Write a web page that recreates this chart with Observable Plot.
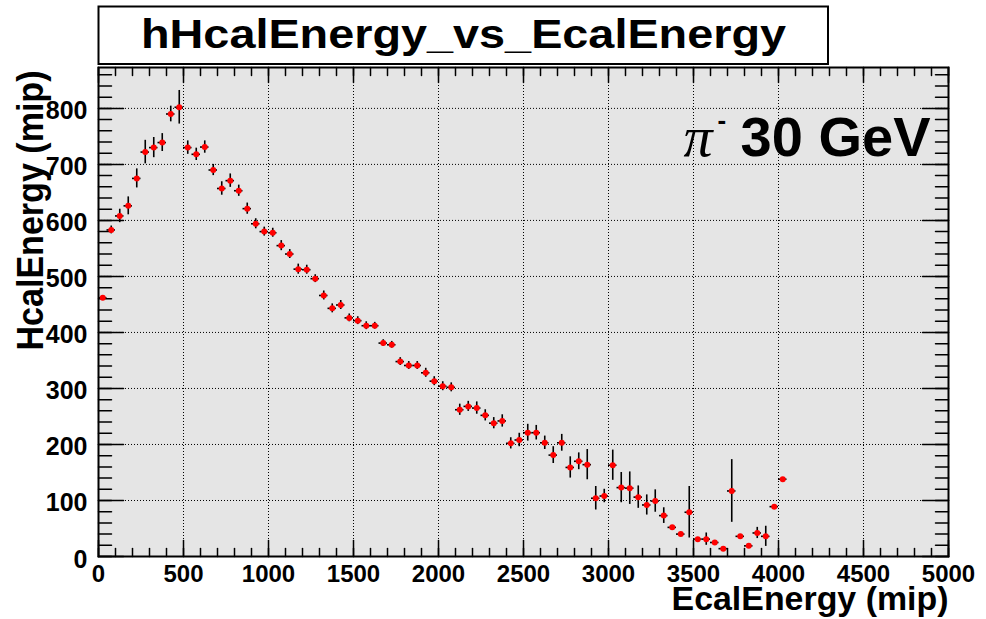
<!DOCTYPE html>
<html>
<head>
<meta charset="utf-8">
<script src="https://cdn.jsdelivr.net/npm/d3@7"></script>
<script src="https://cdn.jsdelivr.net/npm/@observablehq/plot@0.6"></script>
<style>
  html, body { margin: 0; padding: 0; background: #fff; }
  #chart svg { display: block; }
</style>
</head>
<body>
<div id="chart"></div>
<script>
// Profile of HCAL energy against ECAL energy (50-mip bins), pi- at 30 GeV
const titleText = "hHcalEnergy_vs_EcalEnergy";
const xTitle = "EcalEnergy (mip)";
const yTitle = "HcalEnergy (mip)";
const particleText = "π";
const chargeText = "-";
const beamText = "30 GeV";

const binHalfWidth = 25;
const binCenters = [
  25, 75, 125, 175, 225, 275, 325, 375, 425, 475,
  525, 575, 625, 675, 725, 775, 825, 875, 925, 975,
  1025, 1075, 1125, 1175, 1225, 1275, 1325, 1375, 1425, 1475,
  1525, 1575, 1625, 1675, 1725, 1775, 1825, 1875, 1925, 1975,
  2025, 2075, 2125, 2175, 2225, 2275, 2325, 2375, 2425, 2475,
  2525, 2575, 2625, 2675, 2725, 2775, 2825, 2875, 2925, 2975,
  3025, 3075, 3125, 3175, 3225, 3275, 3325, 3375, 3425, 3475,
  3525, 3575, 3625, 3675, 3725, 3775, 3825, 3875, 3925, 3975,
  4025
];
const hcalMean = [
  462, 583, 608, 626, 675, 722, 730, 739, 790, 802,
  730, 718, 731, 690, 657, 671, 653, 621, 594, 580,
  578, 555, 540, 513, 512, 496, 466, 443, 449, 426,
  421, 412, 412, 381, 378, 348, 341, 341, 328, 313,
  304, 302, 262, 268, 265, 252, 238, 242, 202, 208,
  221, 221, 203, 181, 203, 159, 170, 164, 104, 108,
  163, 123, 122, 106, 92, 99, 73, 52, 40, 79,
  31, 31, 25, 14, 117, 36, 19, 42, 36, 89,
  138
];
const hcalError = [
  2, 7, 12, 16, 17, 21, 18, 16, 14, 30,
  12, 11, 11, 10, 12, 12, 10, 10, 9, 8,
  8, 9, 8, 9, 8, 7, 8, 8, 8, 7,
  7, 7, 6, 6, 6, 7, 7, 7, 8, 8,
  8, 8, 10, 9, 11, 10, 10, 11, 10, 12,
  15, 13, 12, 15, 15, 19, 15, 27, 21, 12,
  27, 27, 29, 20, 18, 20, 14, 3, 3, 46,
  3, 11, 3, 2, 56, 3, 3, 10, 18, 2,
  2
];

const xDomain = [0, 5000];
const yDomain = [0, 873];
const xMajor = [0, 500, 1000, 1500, 2000, 2500, 3000, 3500, 4000, 4500, 5000];
const xMinor = d3.range(0, 5001, 100);
const yMajor = [0, 100, 200, 300, 400, 500, 600, 700, 800];
const yMinor = d3.range(0, 873, 20);
const xGrid = [500, 1000, 1500, 2000, 2500, 3000, 3500, 4000, 4500];
const yGrid = [100, 200, 300, 400, 500, 600, 700, 800];

const bins = binCenters.map((x, i) => ({x, y: hcalMean[i], e: hcalError[i]}));

// a plain line segment used for the inward-pointing axis ticks
const tickShape = {draw(context, l) { context.moveTo(0, 0); context.lineTo(0, -l); }};
const tickStyle = {shape: tickShape, anchor: "start", stroke: "black", strokeWidth: 1.5};

const sans = "'Liberation Sans', Arial, Helvetica, sans-serif";

const svg = Plot.plot({
  width: 986,
  height: 619,
  marginLeft: 98,
  marginRight: 38,
  marginTop: 67,
  marginBottom: 63,
  x: {domain: xDomain, axis: null},
  y: {domain: yDomain, axis: null},
  style: {fontFamily: sans, background: "white", overflow: "visible"},
  marks: [
    Plot.frame({fill: "#e5e5e5"}),
    Plot.ruleX(xGrid, {x: d => d, stroke: "black", strokeDasharray: "1,2", strokeWidth: 1}),
    Plot.ruleY(yGrid, {y: d => d, stroke: "black", strokeDasharray: "1,2", strokeWidth: 1}),
    // ticks on all four sides, drawn inside the frame
    Plot.vector(xMajor, {x: d => d, frameAnchor: "bottom", rotate: 0, length: 16, ...tickStyle}),
    Plot.vector(xMinor, {x: d => d, frameAnchor: "bottom", rotate: 0, length: 8, ...tickStyle}),
    Plot.vector(xMajor, {x: d => d, frameAnchor: "top", rotate: 180, length: 15, ...tickStyle}),
    Plot.vector(xMinor, {x: d => d, frameAnchor: "top", rotate: 180, length: 8, ...tickStyle}),
    Plot.vector(yMajor, {y: d => d, frameAnchor: "left", rotate: 90, length: 25, ...tickStyle}),
    Plot.vector(yMinor, {y: d => d, frameAnchor: "left", rotate: 90, length: 13, ...tickStyle}),
    Plot.vector(yMajor, {y: d => d, frameAnchor: "right", rotate: -90, length: 26, ...tickStyle}),
    Plot.vector(yMinor, {y: d => d, frameAnchor: "right", rotate: -90, length: 13, ...tickStyle}),
    // profile points with error bars
    Plot.ruleX(bins, {x: "x", y1: d => d.y - d.e, y2: d => d.y + d.e, stroke: "black", strokeWidth: 1.6}),
    Plot.ruleY(bins, {y: "y", x1: d => d.x - binHalfWidth, x2: d => d.x + binHalfWidth, stroke: "black", strokeWidth: 1.6}),
    Plot.dot(bins, {x: "x", y: "y", r: 3, fill: "red", stroke: "none"}),
    Plot.frame({stroke: "black", strokeWidth: 2}),
    // tick labels
    Plot.text(xMajor, {x: d => d, text: d => String(d), frameAnchor: "bottom", dy: 25, lineAnchor: "bottom",
      fontSize: 24, fontWeight: "bold", fill: "black"}),
    Plot.text(yMajor, {y: d => d, text: d => String(d), frameAnchor: "left", textAnchor: "end", dx: -11, dy: 3,
      lineAnchor: "middle", fontSize: 25, fontWeight: "bold", fill: "black"}),
    // axis titles
    Plot.text([xTitle], {text: d => d, frameAnchor: "bottom-right", textAnchor: "end", dy: 53, lineAnchor: "bottom",
      fontSize: 33, fontWeight: "bold", fill: "black"}),
    Plot.text([yTitle], {text: d => d, frameAnchor: "top-left", textAnchor: "end", rotate: -90, dx: -56, dy: 3,
      lineAnchor: "bottom", fontSize: 36, fontWeight: "bold", fill: "black"}),
    // histogram title
    Plot.text([titleText], {text: d => d, frameAnchor: "top", textAnchor: "middle", dx: -60, dy: -20,
      lineAnchor: "bottom", fontSize: 40, fontWeight: "bold", fill: "black"}),
    // beam label
    Plot.text([particleText], {text: d => d, frameAnchor: "top-left", textAnchor: "start", dx: 585, dy: 88,
      lineAnchor: "bottom", fontSize: 58, fontStyle: "italic", fontFamily: "'Liberation Serif', 'Times New Roman', serif", fill: "black"}),
    Plot.text([chargeText], {text: d => d, frameAnchor: "top-left", textAnchor: "start", dx: 619, dy: 61,
      lineAnchor: "bottom", fontSize: 26, fontWeight: "bold", fill: "black"}),
    Plot.text([beamText], {text: d => d, frameAnchor: "top-right", textAnchor: "end", dx: -18, dy: 88,
      lineAnchor: "bottom", fontSize: 56, fontWeight: "bold", fill: "black"})
  ]
});

// title box behind the histogram title, and fitted text widths
const root = d3.select(svg);
root.insert("rect", ":first-child")
  .attr("x", 98.5).attr("y", 6.5).attr("width", 729.5).attr("height", 57.5)
  .attr("fill", "white").attr("stroke", "black").attr("stroke-width", 2);
const fitted = {[titleText]: 645, [xTitle]: 277, [yTitle]: 280};
root.selectAll("text").each(function() {
  const w = fitted[this.textContent];
  if (w) d3.select(this).attr("textLength", w).attr("lengthAdjust", "spacingAndGlyphs");
});

document.getElementById("chart").appendChild(svg);
</script>
</body>
</html>
